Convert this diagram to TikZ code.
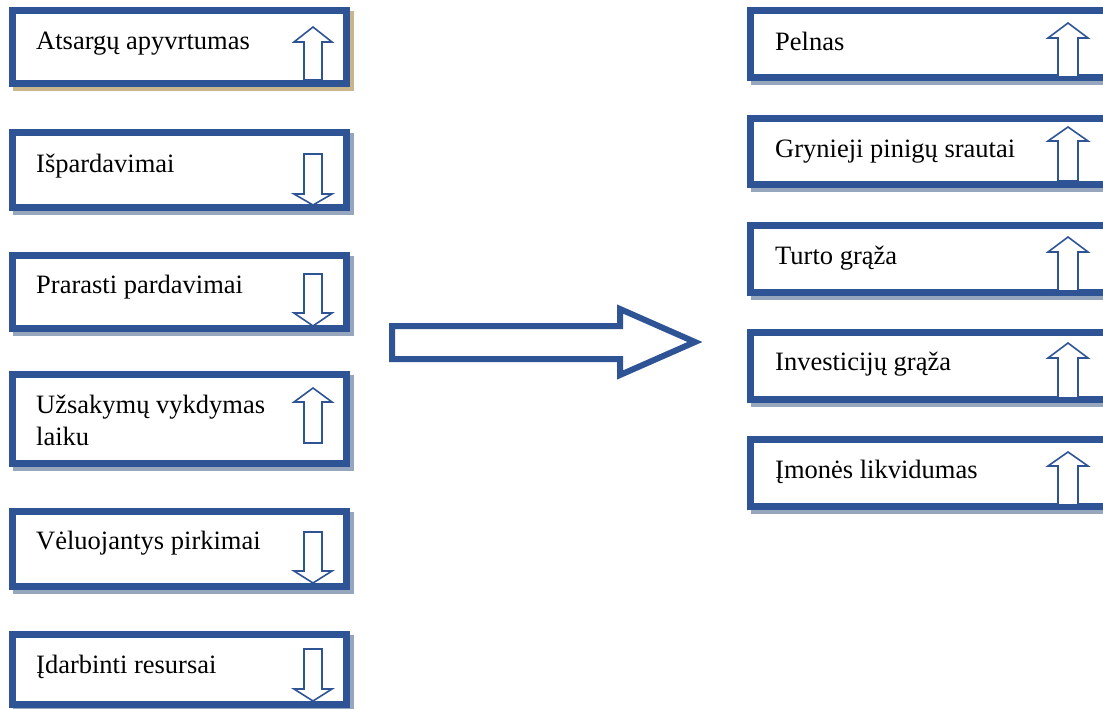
\documentclass[tikz,border=0pt]{standalone}
\usepackage{fontspec}
\setmainfont{Liberation Serif}
\usetikzlibrary{calc}
\pgfdeclarelayer{background}
\pgfsetlayers{background,main}
\definecolor{frameblue}{RGB}{47,84,150}
\definecolor{shadowgold}{RGB}{201,182,140}
\definecolor{shadowgray}{RGB}{150,166,188}

\tikzset{
  factbox/.style={draw=frameblue, line width=7pt, fill=white, rectangle,
    inner sep=0pt, minimum width=#1},
  leftbox/.style={factbox=334pt},
  rightbox/.style={factbox=356pt},
  label/.style={anchor=base west, inner sep=0pt, text=black,
    font=\fontsize{26.5}{32}\selectfont},
  trend/.style={draw=frameblue, fill=white, line width=1.6pt, line join=miter},
  bigarrow/.style={draw=frameblue, fill=white, line width=6pt, line join=miter}
}

% up-pointing block arrow: centre x, tip y, wing y, shaft end y, half wing, half shaft
\newcommand\trendup[6]{%
  \draw[trend] (#1-#6,#4) -- (#1-#6,#3) -- (#1-#5,#3) -- (#1,#2)
    -- (#1+#5,#3) -- (#1+#6,#3) -- (#1+#6,#4) -- cycle;}
% down-pointing block arrow: centre x, shaft top y, wing y, tip y
\newcommand\trenddown[4]{%
  \draw[trend] (#1-9,#2) -- (#1+9,#2) -- (#1+9,#3) -- (#1+19,#3) -- (#1,#4)
    -- (#1-19,#3) -- (#1-9,#3) -- cycle;}

\begin{document}
\begin{tikzpicture}[x=1pt,y=-1pt]
\clip (0,0) rectangle (1103,709);

% ---- left column ----
\node[leftbox, minimum height=73pt] (b1) at (179.5,47) {};
\node[leftbox, minimum height=75pt] (b2) at (179.5,170) {};
\node[leftbox, minimum height=73pt] (b3) at (179.5,292) {};
\node[leftbox, minimum height=89pt] (b4) at (179.5,419) {};
\node[leftbox, minimum height=75pt] (b5) at (179.5,549) {};
\node[leftbox, minimum height=70pt] (b6) at (179.5,669.5) {};

% ---- right column ----
\node[rightbox, minimum height=67pt] (r1) at (928.5,44) {};
\node[rightbox, minimum height=66pt] (r2) at (928.5,151.5) {};
\node[rightbox, minimum height=67pt] (r3) at (928.5,259) {};
\node[rightbox, minimum height=67pt] (r4) at (928.5,366) {};
\node[rightbox, minimum height=67pt] (r5) at (928.5,473) {};

% shadows behind the frames
\begin{pgfonlayer}{background}
  \fill[white] (0,0) rectangle (1103,709);
  \fill[shadowgold] ($(b1.north west)+(4,4)$) rectangle ($(b1.south east)+(4,4)$);
  \foreach \b in {b2,b3,b4,b5,b6,r1,r2,r3,r4,r5}
    \fill[shadowgray] ($(\b.north west)+(4,4)$) rectangle ($(\b.south east)+(4,4)$);
\end{pgfonlayer}

% ---- labels ----
\node[label] (t1) at (36,50) {Atsargų apyvrtumas};
\node[label] (t2) at (36,172) {Išpardavimai};
\node[label] (t3) at (36,293) {Prarasti pardavimai};
\node[label] (t4) at (36,413) {\vtop{\hbox{Užsakymų vykdymas}\hbox{laiku}}};
\node[label] (t5) at (36,549) {Vėluojantys pirkimai};
\node[label] (t6) at (36,673) {Įdarbinti resursai};

\node[label] (s1) at (775,51) {Pelnas};
\node[label] (s2) at (775,157) {Grynieji pinigų srautai};
\node[label] (s3) at (775,264) {Turto grąža};
\node[label] (s4) at (775,370) {Investicijų grąža};
\node[label] (s5) at (775,478) {Įmonės likvidumas};

% ---- trend arrows ----
\trendup{313}{27}{42}{80}{19}{9}
\trenddown{313}{154}{194}{205}
\trenddown{313}{274}{313}{326}
\trendup{313}{388}{402}{443}{19}{9}
\trenddown{313}{532}{571}{583}
\trenddown{313}{649}{689}{701}

\trendup{1068}{23}{38}{77}{20}{10}
\trendup{1068}{127}{141}{181}{20}{10}
\trendup{1068}{237}{252}{291}{20}{10}
\trendup{1068}{343}{358}{398}{20}{10}
\trendup{1068}{452}{466}{505}{20}{10}

% ---- central arrow ----
\draw[bigarrow] (392,326) -- (620,326) -- (620,309) -- (695,342)
  -- (620,375) -- (620,359) -- (392,359) -- cycle;
\end{tikzpicture}
\end{document}
